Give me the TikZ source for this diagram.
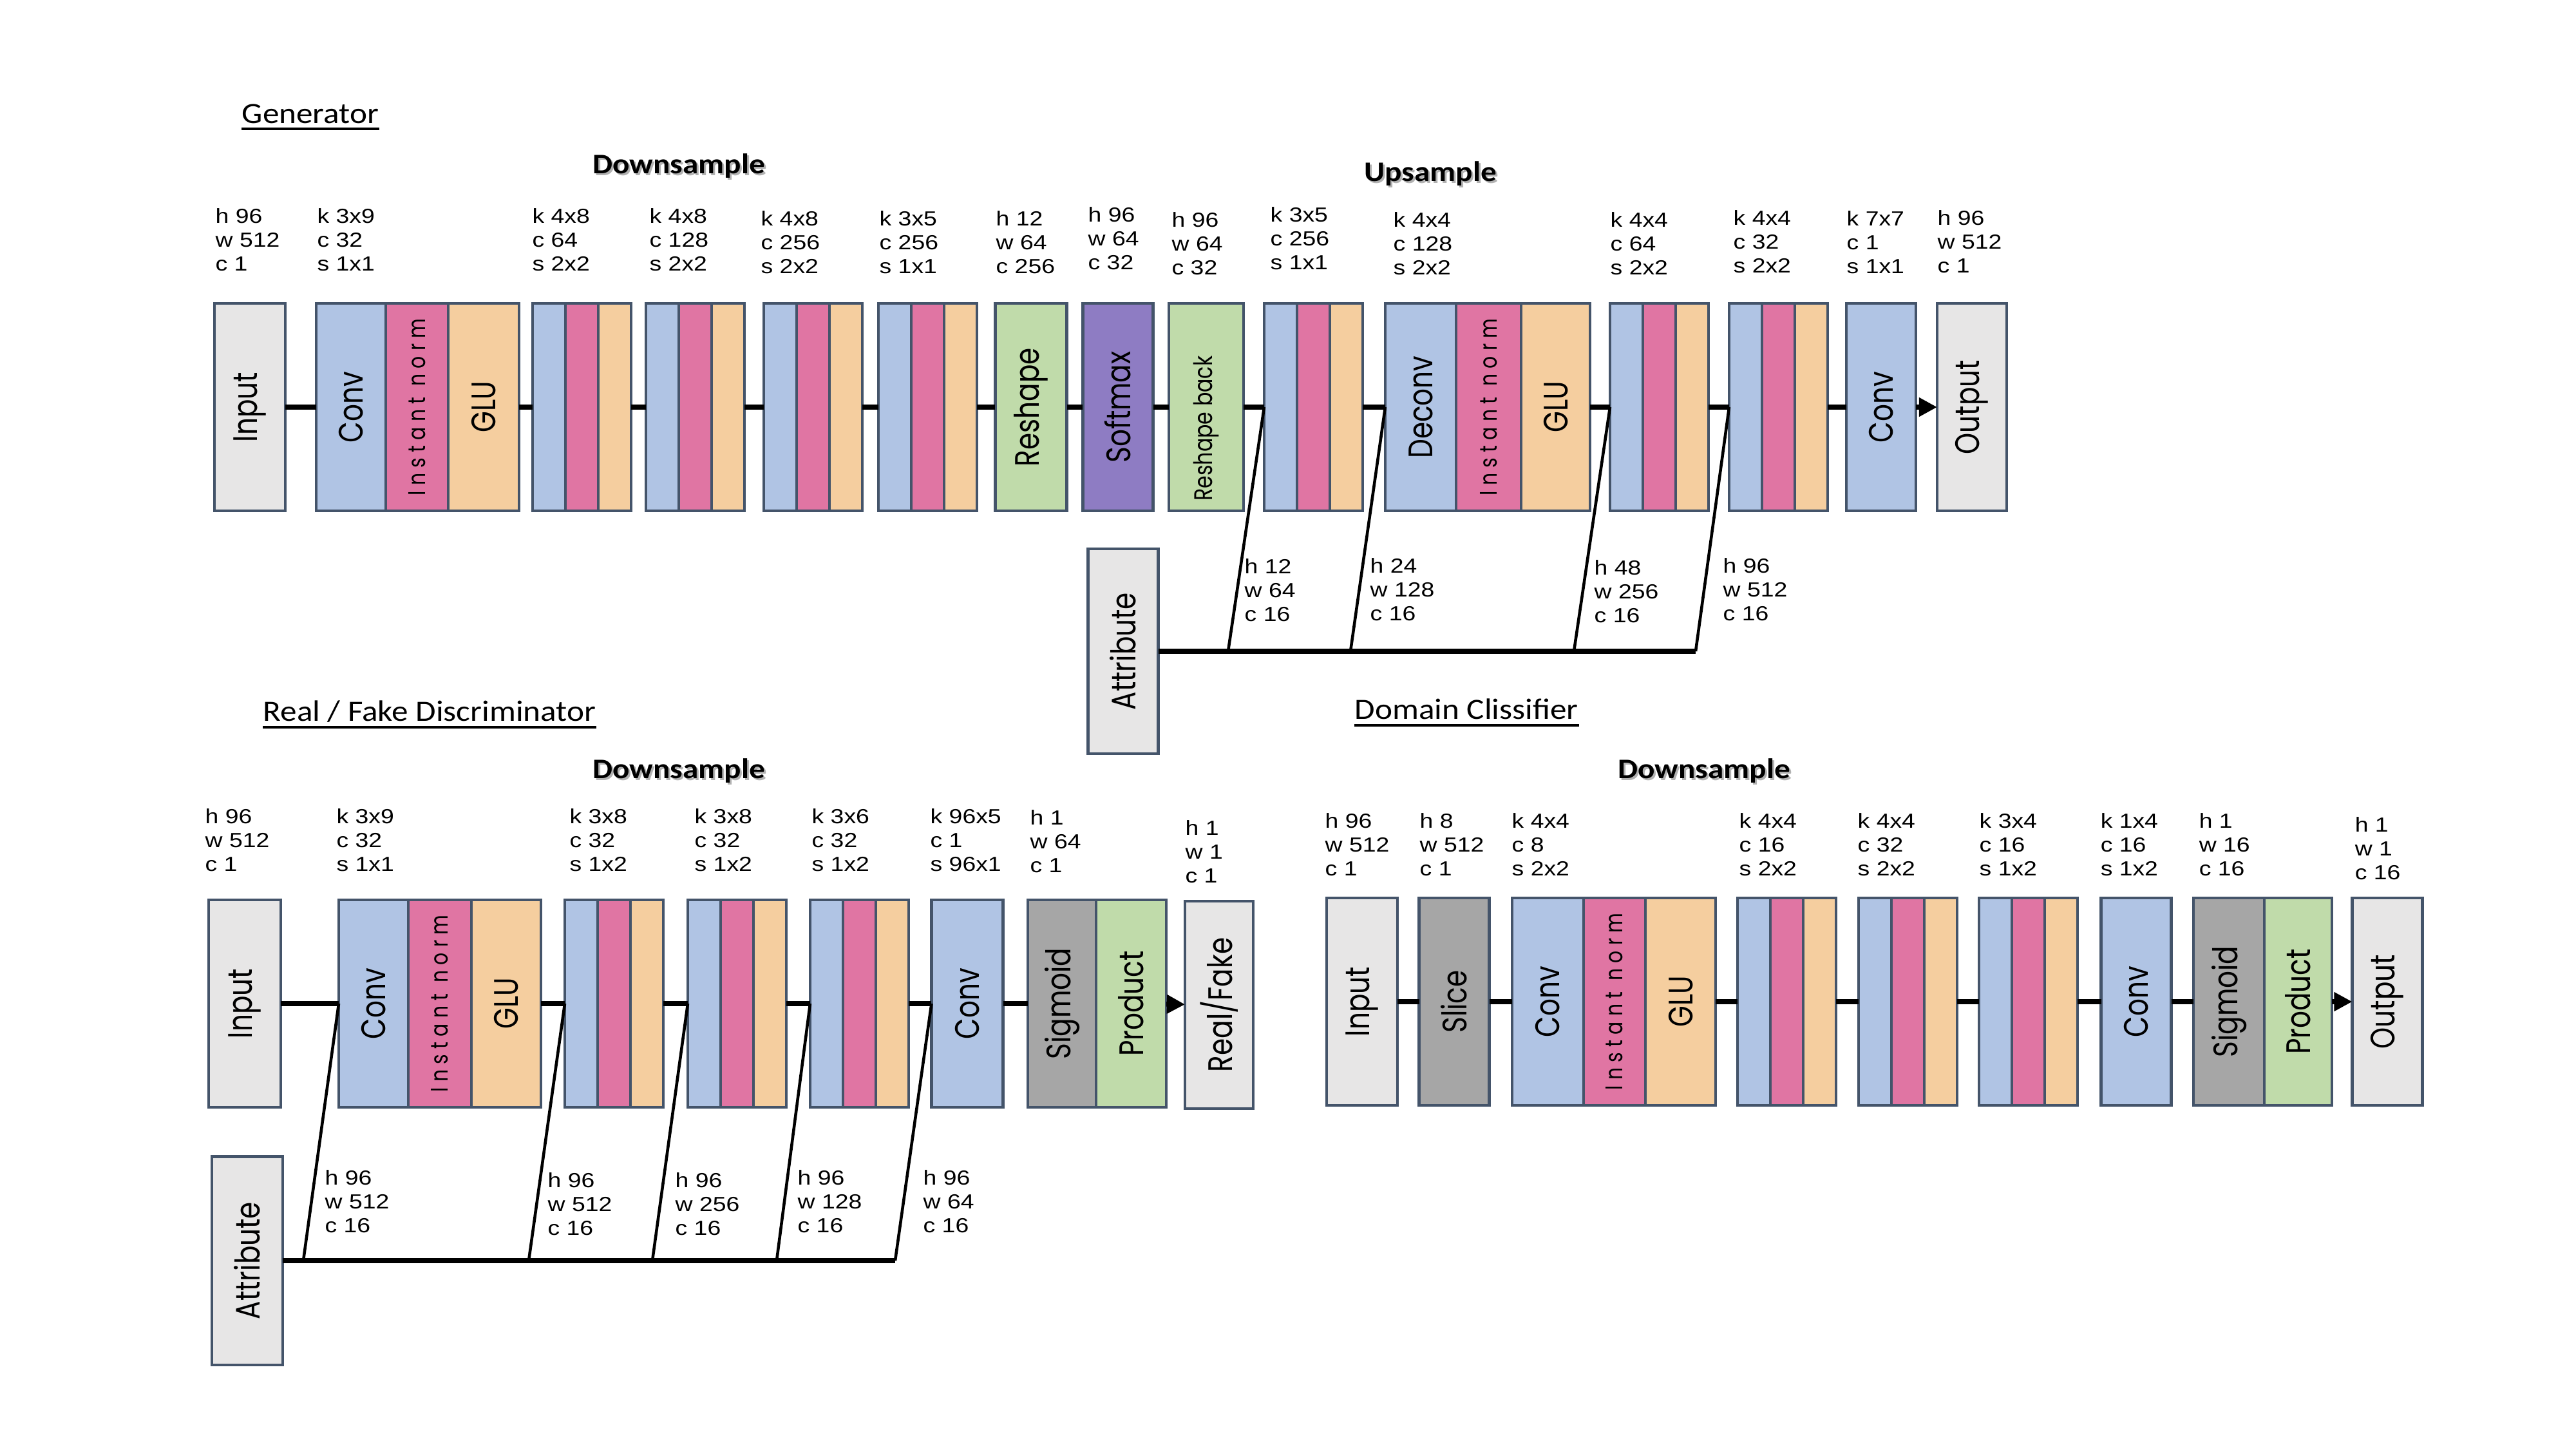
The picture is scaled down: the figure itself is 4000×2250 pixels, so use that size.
\documentclass[tikz,border=0pt]{standalone}
\usepackage{graphicx}
\usepackage{fontspec}
\setmainfont{Liberation Sans}
\newfontfamily\dimfont[FakeStretch=1.18]{Liberation Sans}
\newfontfamily\titlefont[FakeStretch=1.12]{Carlito}
\newfontfamily\boxfont{Poppins}
\usetikzlibrary{positioning,arrows.meta}

\definecolor{edge}{HTML}{44546A}
\definecolor{inputgray}{HTML}{E7E6E6}
\definecolor{slicegray}{HTML}{A6A6A6}
\definecolor{convblue}{HTML}{B0C4E4}
\definecolor{normpink}{HTML}{E075A3}
\definecolor{gluorange}{HTML}{F5CE9F}
\definecolor{reshapegreen}{HTML}{C0DBAA}
\definecolor{softpurple}{HTML}{8E7CC3}

\newcommand{\vlab}[1]{\rotatebox{90}{\scalebox{1}[1.25]{#1}}}
\newcommand{\inorm}{\vlab{\addfontfeatures{LetterSpace=28}\fontsize{8.5}{8.5}\selectfont Instant norm}}

\tikzset{
  blk/.style={draw=edge, line width=1.2pt, minimum height=3.22cm, inner sep=0pt, outer sep=0pt,
    font=\boxfont\fontsize{12}{12}\selectfont},
  inbox/.style={blk, fill=inputgray},
  convbox/.style={blk, fill=convblue},
  normbox/.style={blk, fill=normpink},
  glubox/.style={blk, fill=gluorange},
  greenbox/.style={blk, fill=reshapegreen},
  softbox/.style={blk, fill=softpurple},
  greybox/.style={blk, fill=slicegray},
  dims/.style={anchor=north west, inner sep=0pt, align=left, font=\dimfont\fontsize{9}{10.5}\selectfont},
  heading/.style={anchor=base west, inner sep=0pt, font=\titlefont\fontsize{13}{13}\selectfont},
  stage/.style={anchor=base, inner sep=0pt, font=\titlefont\bfseries\fontsize{12.5}{12.5}\selectfont},
  flow/.style={line width=2.2pt},
  tap/.style={line width=1.3pt},
  tip/.style={-{Triangle[length=8pt,width=8pt]}},
}

\begin{document}
\begin{tikzpicture}[x=0.01cm, y=-0.01cm]
  \path[use as bounding box, fill=white] (0,0) rectangle (4000,2250);

  % ---------------- Generator ----------------
  \node[heading] (gtitle) at (375,191) {Generator};
  \draw[line width=1.2pt] ([yshift=-2.6pt]gtitle.base west) -- ([yshift=-2.6pt]gtitle.base east);
  \node[stage, text=black!30] (gdownsh) at (1057,272) {Downsample};
  \node[stage] (gdown) at (1054,269) {Downsample};
  \node[stage, text=black!30] (gupsh) at (2224,284) {Upsample};
  \node[stage] (gup) at (2221,281) {Upsample};

  \node[inbox, minimum width=1.10cm] (gin) at (388,632) {\vlab{Input}};
  \node[convbox, minimum width=1.08cm, anchor=west] (g1-c) at (491,632) {\vlab{Conv}};
  \node[normbox, minimum width=0.97cm, right=0pt of g1-c] (g1-n) {\inorm};
  \node[glubox, minimum width=1.10cm, right=0pt of g1-n] (g1-g) {\vlab{GLU}};
  \foreach \i/\x in {2/827,3/1003,4/1186,5/1364,6/1963,8/2500,9/2685}{
    \node[convbox, minimum width=0.51cm, anchor=west] (g\i-c) at (\x,632) {};
    \node[normbox, minimum width=0.51cm, right=0pt of g\i-c] (g\i-n) {};
    \node[glubox, minimum width=0.51cm, right=0pt of g\i-n] (g\i-g) {};
  }
  \node[greenbox, minimum width=1.11cm] (grs) at (1601,632) {\vlab{Reshape}};
  \node[softbox, minimum width=1.09cm] (gsm) at (1736,632) {\vlab{Softmax}};
  \node[greenbox, minimum width=1.16cm] (grb) at (1873,632) {\vlab{\fontsize{9}{9}\selectfont Reshape back\hspace{0.66cm}}};
  \node[convbox, minimum width=1.10cm, anchor=west] (g7-c) at (2151,632) {\vlab{Deconv}};
  \node[normbox, minimum width=1.01cm, right=0pt of g7-c] (g7-n) {\inorm};
  \node[glubox, minimum width=1.07cm, right=0pt of g7-n] (g7-g) {\vlab{GLU}};
  \node[convbox, minimum width=1.08cm] (gcv) at (2921,632) {\vlab{Conv}};
  \node[inbox, minimum width=1.08cm] (gout) at (3062,632) {\vlab{Output}};
  \node[inbox, minimum width=1.09cm, minimum height=3.18cm] (gattr) at (1744,1011) {\vlab{Attribute}};

  \draw[flow] (gin) -- (g1-c);
  \draw[flow] (g1-g) -- (g2-c);
  \draw[flow] (g2-g) -- (g3-c);
  \draw[flow] (g3-g) -- (g4-c);
  \draw[flow] (g4-g) -- (g5-c);
  \draw[flow] (g5-g) -- (grs);
  \draw[flow] (grs) -- (gsm);
  \draw[flow] (gsm) -- (grb);
  \draw[flow] (grb) -- (g6-c);
  \draw[flow] (g6-g) -- (g7-c);
  \draw[flow] (g7-g) -- (g8-c);
  \draw[flow] (g8-g) -- (g9-c);
  \draw[flow] (g9-g) -- (gcv);
  \draw[flow, tip] (gcv) -- (gout);

  \coordinate (ga1) at (1907,1011);
  \coordinate (ga2) at (2097,1011);
  \coordinate (ga3) at (2444,1011);
  \coordinate (ga4) at (2633,1011);
  \draw[flow] (gattr) -- (ga4);
  \draw[tap] (ga1) -- (g6-c.west);
  \draw[tap] (ga2) -- (g7-c.west);
  \draw[tap] (ga3) -- (g8-c.west);
  \draw[tap] (ga4) -- (g9-c.west);

  \foreach \x/\y/\t [count=\n] in {
      334/323/{h 96\\w 512\\c 1}, 492/323/{k 3x9\\c 32\\s 1x1},
      826/323/{k 4x8\\c 64\\s 2x2}, 1008/323/{k 4x8\\c 128\\s 2x2},
      1181/327/{k 4x8\\c 256\\s 2x2}, 1365/327/{k 3x5\\c 256\\s 1x1},
      1546/327/{h 12\\w 64\\c 256}, 1689/321/{h 96\\w 64\\c 32},
      1819/329/{h 96\\w 64\\c 32}, 1972/321/{k 3x5\\c 256\\s 1x1},
      2163/329/{k 4x4\\c 128\\s 2x2}, 2500/329/{k 4x4\\c 64\\s 2x2},
      2691/326/{k 4x4\\c 32\\s 2x2}, 2867/327/{k 7x7\\c 1\\s 1x1},
      3008/326/{h 96\\w 512\\c 1},
      1932/867/{h 12\\w 64\\c 16}, 2127/866/{h 24\\w 128\\c 16},
      2475/869/{h 48\\w 256\\c 16}, 2675/866/{h 96\\w 512\\c 16}}
    \node[dims] (gdim\n) at (\x,\y) {\t};

  % ---------------- Real / Fake Discriminator ----------------
  \node[heading] (dtitle) at (408,1119) {Real / Fake Discriminator};
  \draw[line width=1.2pt] ([yshift=-2.8pt]dtitle.base west) -- ([yshift=-2.8pt]dtitle.base east);
  \node[stage, text=black!30] (ddownsh) at (1057,1211) {Downsample};
  \node[stage] (ddown) at (1054,1208) {Downsample};

  \node[inbox, minimum width=1.12cm] (din) at (380,1558) {\vlab{Input}};
  \node[convbox, minimum width=1.08cm, anchor=west] (d1-c) at (526,1558) {\vlab{Conv}};
  \node[normbox, minimum width=0.98cm, right=0pt of d1-c] (d1-n) {\inorm};
  \node[glubox, minimum width=1.08cm, right=0pt of d1-n] (d1-g) {\vlab{GLU}};
  \foreach \i/\x in {2/877,3/1068,4/1258}{
    \node[convbox, minimum width=0.51cm, anchor=west] (d\i-c) at (\x,1558) {};
    \node[normbox, minimum width=0.51cm, right=0pt of d\i-c] (d\i-n) {};
    \node[glubox, minimum width=0.51cm, right=0pt of d\i-n] (d\i-g) {};
  }
  \node[convbox, minimum width=1.11cm] (dcv) at (1502,1558) {\vlab{Conv}};
  \node[greybox, minimum width=1.06cm, anchor=west] (dsg) at (1596,1558) {\vlab{Sigmoid}};
  \node[greenbox, minimum width=1.09cm, right=0pt of dsg] (dpr) {\vlab{Product}};
  \node[inbox, minimum width=1.06cm] (drf) at (1893,1560) {\vlab{Real/Fake}};
  \node[inbox, minimum width=1.10cm, minimum height=3.23cm] (dattr) at (384,1957) {\vlab{Attribute}};

  \draw[flow] (din) -- (d1-c);
  \draw[flow] (d1-g) -- (d2-c);
  \draw[flow] (d2-g) -- (d3-c);
  \draw[flow] (d3-g) -- (d4-c);
  \draw[flow] (d4-g) -- (dcv);
  \draw[flow] (dcv) -- (dsg);
  \draw[flow, tip] (dpr) -- (drf);

  \coordinate (da1) at (471,1957);
  \coordinate (da2) at (821,1957);
  \coordinate (da3) at (1013,1957);
  \coordinate (da4) at (1206,1957);
  \coordinate (da5) at (1390,1957);
  \draw[flow] (dattr) -- (da5);
  \draw[tap] (da1) -- (d1-c.west);
  \draw[tap] (da2) -- (d2-c.west);
  \draw[tap] (da3) -- (d3-c.west);
  \draw[tap] (da4) -- (d4-c.west);
  \draw[tap] (da5) -- (dcv.west);

  \foreach \x/\y/\t [count=\n] in {
      318/1255/{h 96\\w 512\\c 1}, 522/1255/{k 3x9\\c 32\\s 1x1},
      884/1255/{k 3x8\\c 32\\s 1x2}, 1078/1255/{k 3x8\\c 32\\s 1x2},
      1260/1255/{k 3x6\\c 32\\s 1x2}, 1444/1255/{k 96x5\\c 1\\s 96x1},
      1599/1257/{h 1\\w 64\\c 1}, 1840/1273/{h 1\\w 1\\c 1},
      504/1816/{h 96\\w 512\\c 16}, 850/1820/{h 96\\w 512\\c 16},
      1048/1820/{h 96\\w 256\\c 16}, 1238/1816/{h 96\\w 128\\c 16},
      1433/1816/{h 96\\w 64\\c 16}}
    \node[dims] (ddim\n) at (\x,\y) {\t};

  % ---------------- Domain Clissifier ----------------
  \node[heading] (ctitle) at (2103,1116) {Domain Clissifier};
  \draw[line width=1.2pt] ([yshift=-2.8pt]ctitle.base west) -- ([yshift=-2.8pt]ctitle.base east);
  \node[stage, text=black!30] (cdownsh) at (2649,1211) {Downsample};
  \node[stage] (cdown) at (2646,1208) {Downsample};

  \node[inbox, minimum width=1.10cm] (cin) at (2115,1555) {\vlab{Input}};
  \node[greybox, minimum width=1.09cm] (csl) at (2258,1555) {\vlab{Slice}};
  \node[convbox, minimum width=1.11cm, anchor=west] (c1-c) at (2348,1555) {\vlab{Conv}};
  \node[normbox, minimum width=0.96cm, right=0pt of c1-c] (c1-n) {\inorm};
  \node[glubox, minimum width=1.09cm, right=0pt of c1-n] (c1-g) {\vlab{GLU}};
  \foreach \i/\x in {2/2698,3/2886,4/3073}{
    \node[convbox, minimum width=0.51cm, anchor=west] (c\i-c) at (\x,1555) {};
    \node[normbox, minimum width=0.51cm, right=0pt of c\i-c] (c\i-n) {};
    \node[glubox, minimum width=0.51cm, right=0pt of c\i-n] (c\i-g) {};
  }
  \node[convbox, minimum width=1.09cm] (ccv) at (3317,1555) {\vlab{Conv}};
  \node[greybox, minimum width=1.10cm, anchor=west] (csg) at (3406,1555) {\vlab{Sigmoid}};
  \node[greenbox, minimum width=1.05cm, right=0pt of csg] (cpr) {\vlab{Product}};
  \node[inbox, minimum width=1.09cm] (cout) at (3707,1555) {\vlab{Output}};

  \draw[flow] (cin) -- (csl);
  \draw[flow] (csl) -- (c1-c);
  \draw[flow] (c1-g) -- (c2-c);
  \draw[flow] (c2-g) -- (c3-c);
  \draw[flow] (c3-g) -- (c4-c);
  \draw[flow] (c4-g) -- (ccv);
  \draw[flow] (ccv) -- (csg);
  \draw[flow, tip] (cpr) -- (cout);

  \foreach \x/\y/\t [count=\n] in {
      2057/1262/{h 96\\w 512\\c 1}, 2204/1262/{h 8\\w 512\\c 1},
      2347/1262/{k 4x4\\c 8\\s 2x2}, 2700/1262/{k 4x4\\c 16\\s 2x2},
      2884/1262/{k 4x4\\c 32\\s 2x2}, 3073/1262/{k 3x4\\c 16\\s 1x2},
      3261/1262/{k 1x4\\c 16\\s 1x2}, 3414/1262/{h 1\\w 16\\c 16},
      3656/1268/{h 1\\w 1\\c 16}}
    \node[dims] (cdim\n) at (\x,\y) {\t};
\end{tikzpicture}
\end{document}
